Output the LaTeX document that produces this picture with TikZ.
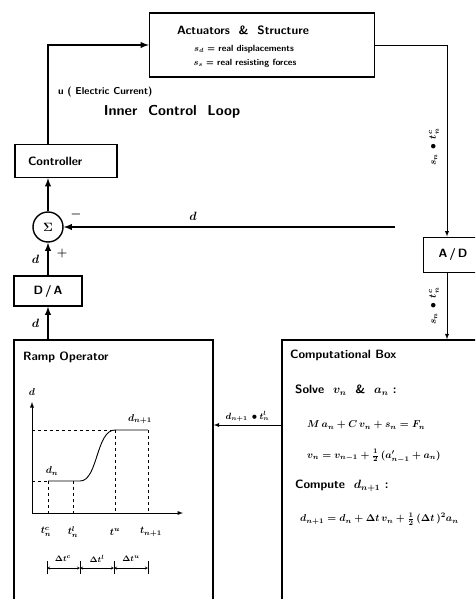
\documentclass[tikz,border=0pt]{standalone}
\usepackage{amsmath,amssymb}
\usetikzlibrary{arrows,positioning}

\begin{document}
\begin{tikzpicture}[x=1pt, y=-1pt,
		>=latex,   % Pfeilspitzen
		box/.style={draw, line width=1.4pt, inner sep=0pt},
		loop/.style={line width=1.8pt},
		sig/.style={line width=0.9pt},
		lbl/.style={inner sep=1pt},
		font=\sffamily\bfseries\boldmath]
		\useasboundingbox (0,0) rectangle (475,599);
		\clip (0,0) rectangle (475,599);
		% Bloecke
		\node[box, minimum width=225, minimum height=64] (act) at (262,45) {};
		\node[lbl] (acth) at (243,30) {\large Actuators~~\&~~Structure};
		\node[lbl] (actd) at (244,49) {\small $s_d$ = real displacements};
		\node[lbl] (acts) at (245,63) {\small $s_s$ = real resisting forces};
		\node[box, minimum height=33, text width=76pt, inner xsep=13pt, align=left] (ctrl) at (66,161) {\large Controller};
		\node[draw, circle, line width=1.4pt, minimum size=30, inner sep=0pt] (sum) at (48,227) {\large $\Sigma$};
		\node[box, minimum width=68, minimum height=30] (da) at (48,291) {\large D\,/\,A};
		\node[box, line width=1pt, minimum width=60, minimum height=35] (ad) at (453,254.5) {\large A\,/\,D};
		\node[box, minimum width=199, minimum height=280] (ramp) at (113.5,480) {};
		\node[box, minimum width=210, minimum height=280] (comp) at (387,480) {};
		% Texte
		\node[lbl, anchor=west] (ulab) at (57,92) {u ( Electric Current)};
		\node[lbl] (icl) at (172,112) {\Large Inner~~Control~~Loop};
		\node[lbl] (minus) at (76,214) {\large $-$};
		\node[lbl] (plus) at (62,253) {\large $+$};
		\node[lbl, anchor=west] (rampt) at (22,357) {\large Ramp Operator};
		\node[lbl, anchor=west] (compt) at (289,355) {\large Computational Box};
		\node[lbl, anchor=west] (solve) at (294,390) {\large Solve~ $v_n$ ~\&~ $a_n$ :};
		\node[lbl, anchor=west] (eqm) at (306,425) {\normalsize $M\,a_n + C\,v_n + s_n = F_n$};
		\node[lbl, anchor=west] (eqv) at (306,456) {\normalsize $v_n = v_{n-1} + \frac{1}{2}\,(a'_{n-1} + a_n)$};
		\node[lbl, anchor=west] (cmp) at (294,486) {\large Compute~ $d_{n+1}$ :};
		\node[lbl, anchor=west] (eqd) at (299,519) {\normalsize $d_{n+1} = d_n + \Delta t\,v_n + \frac{1}{2}\,(\Delta t\,)^2 a_n$};
		% Innerer Regelkreis
		\coordinate (fb) at (395,227);
		\draw[loop,->] (ctrl.north -| sum.north) |- (act.west);
		\draw[loop,->] (sum.north) -- (sum.north |- ctrl.south);
		\draw[loop,->] (fb) -- (sum.east) node[pos=0.61, above=5pt, lbl] (dfb) {\large $d$};
		\draw[loop,->] (da.north) -- (sum.south) node[midway, left=7pt, lbl] (dsum) {\large $d$};
		\draw[loop,->] (ramp.north -| da.south) -- (da.south) node[midway, left=7pt, lbl] (dda) {\large $d$};
		% Messung und Rueckfuehrung
		\coordinate (rx) at (447,0);
		\coordinate (dl) at (0,425);
		\draw[sig,->] (act.east) -| (rx |- ad.north);
		\draw[sig,->] (rx |- ad.south) -- (rx |- comp.north);
		\node[lbl, rotate=90] (sup) at (434,147) {$s_n\,\bullet\,t_n^c$};
		\node[lbl, rotate=90] (slo) at (434,306) {$s_n\,\bullet\,t_n^c$};
		\draw[sig,->] (comp.west |- dl) -- (ramp.east |- dl) node[midway, above=2pt, lbl] (dnl) {\small $d_{n+1}\,\bullet t_n^l$};
		% Rampe zeichnen
		\draw[sig,->] (32,513) -- (32,402);
		\draw[sig,->] (32,513) -- (183,513);
		\draw[sig,dashed] (32,430) -- (115,430);
		\draw[sig,dashed] (32,481) -- (48,481);
		\draw[sig] (48,481) -- (80,481) .. controls (98,481) and (96,430) .. (115,430) -- (148,430);
		\foreach \x in {48,73} \draw[sig,dashed] (\x,481) -- (\x,513);
		\foreach \x in {115,148} \draw[sig,dashed] (\x,430) -- (\x,513);
		\node[lbl] (dax) at (32,392) {$d$};
		\node[lbl] (dn) at (52,471) {$d_n$};
		\node[lbl] (dnp) at (140,419) {$d_{n+1}$};
		\node[lbl] (tc) at (46,532) {$t_n^c$};
		\node[lbl] (tl) at (73,532) {$t_n^l$};
		\node[lbl] (tu) at (115,532) {$t^u$};
		\node[lbl] (tn) at (151,532) {$t_{n+1}$};
		% Intervalle
		\foreach \x in {47,80,114,148} \draw[sig] (\x,561) -- (\x,574);
		\draw[thin,<->,>=stealth] (47,568) -- (80,568);
		\draw[thin,<->,>=stealth] (80,568) -- (114,568);
		\draw[thin,<->,>=stealth] (114,568) -- (148,568);
		\node[lbl] (dtc) at (63,559) {\footnotesize $\Delta t^c$};
		\node[lbl] (dtl) at (97,559) {\footnotesize $\Delta t^l$};
		\node[lbl] (dtu) at (131,559) {\footnotesize $\Delta t^u$};
	\end{tikzpicture}
\end{document}
